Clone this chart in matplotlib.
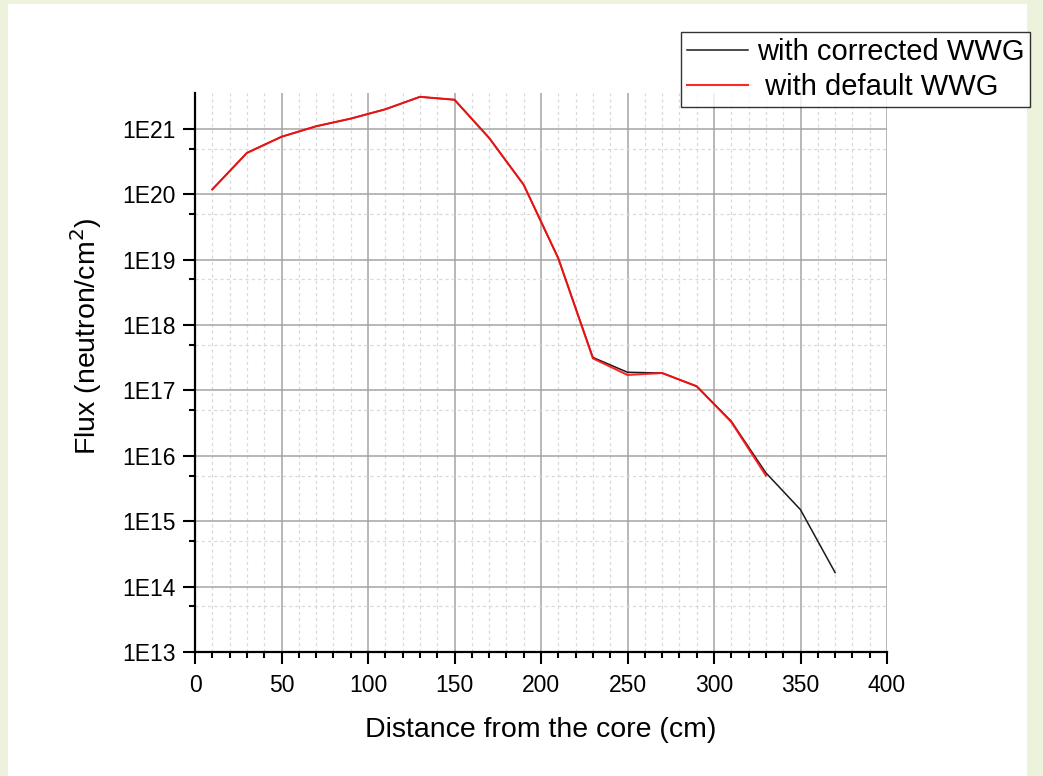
import matplotlib
matplotlib.use("Agg")
import matplotlib.pyplot as plt
from matplotlib.ticker import FixedLocator, FuncFormatter, MultipleLocator, NullFormatter
from matplotlib.patches import Rectangle
import numpy as np

plt.rcParams['font.family'] = ['Liberation Sans', 'DejaVu Sans']

# Data
x_corrected = [10, 30, 50, 70, 90, 110, 130, 150, 170, 190, 210, 230, 250, 270, 290, 310, 330, 350, 370]
flux_corrected = [1.19e20, 4.3e20, 7.6e20, 1.1e21, 1.44e21, 2.0e21, 3.1e21, 2.8e21, 7.3e20, 1.4e20,
                  1.05e19, 3.2e17, 1.9e17, 1.85e17, 1.16e17, 3.37e16, 5.5e15, 1.5e15, 1.64e14]
x_default = [10, 30, 50, 70, 90, 110, 130, 150, 170, 190, 210, 230, 250, 270, 290, 310, 330]
flux_default = [1.19e20, 4.3e20, 7.6e20, 1.1e21, 1.44e21, 2.0e21, 3.1e21, 2.8e21, 7.3e20, 1.4e20,
                1.05e19, 3.1e17, 1.73e17, 1.85e17, 1.16e17, 3.3e16, 5.0e15]
label_corrected = "with corrected WWG"
label_default = " with default WWG"
xlabel = "Distance from the core (cm)"
ylabel = "Flux (neutron/cm$^2$)"
y_major = [1e13, 1e14, 1e15, 1e16, 1e17, 1e18, 1e19, 1e20, 1e21]
y_minor = [5e13, 5e14, 5e15, 5e16, 5e17, 5e18, 5e19, 5e20, 5e21]

W, H = 1043, 776
fig = plt.figure(figsize=(W / 100, H / 100), dpi=100)
fig.patch.set_facecolor('#edf2dc')
fig.patches.append(Rectangle((8 / W, 0), (1027 - 8) / W, (776 - 4) / H,
                             transform=fig.transFigure, facecolor='white',
                             edgecolor='none', zorder=-10))

ax = fig.add_axes([195 / W, 1 - 652 / H, (887 - 195) / W, (652 - 93) / H])
ax.set_facecolor('none')

ax.plot(x_corrected, flux_corrected, color='#1a1a1a', lw=1.1, label=label_corrected, zorder=3)
ax.plot(x_default, flux_default, color='#ff1010', lw=1.5, label=label_default, zorder=4, alpha=0.9)

ax.set_yscale('log')
ax.set_xlim(0, 400)
ax.set_ylim(1e13, 3.55e21)

ax.xaxis.set_major_locator(MultipleLocator(50))
ax.xaxis.set_minor_locator(MultipleLocator(10))
ax.yaxis.set_major_locator(FixedLocator(y_major))
ax.yaxis.set_minor_locator(FixedLocator(y_minor))
ax.yaxis.set_minor_formatter(NullFormatter())
ax.yaxis.set_major_formatter(FuncFormatter(lambda v, p: "1E%d" % int(round(np.log10(v)))))

ax.grid(which='major', color='#a4a4a4', lw=1.1, ls='-', zorder=0)
ax.grid(which='minor', color='#d9d9d9', lw=0.9, ls=(0, (2.5, 2.5)), zorder=0)
ax.set_axisbelow(True)

for s in ['top', 'right']:
    ax.spines[s].set_visible(False)
for s in ['left', 'bottom']:
    ax.spines[s].set_linewidth(1.6)
    ax.spines[s].set_color('black')

ax.tick_params(which='major', direction='out', length=8.5, width=1.5, labelsize=16.5, pad=5.5)
ax.tick_params(which='minor', direction='out', length=4.5, width=1.5)
ax.tick_params(axis='x', which='major', pad=7)

ax.set_xlabel(xlabel, fontsize=20.5, labelpad=15)
ax.set_ylabel(ylabel, fontsize=20.5)
ax.yaxis.set_label_coords(-0.132, 0.565)

leg = fig.legend(loc='upper left', bbox_to_anchor=(681 / W, 1 - 32 / H), borderaxespad=0,
                 fontsize=21, frameon=True, fancybox=False, handlelength=2.1,
                 handletextpad=0.3, labelspacing=0.26, borderpad=0.2)
leg.get_frame().set_edgecolor('black')
leg.get_frame().set_linewidth(1.0)

fig.savefig('out.png', dpi=100, facecolor=fig.get_facecolor())
